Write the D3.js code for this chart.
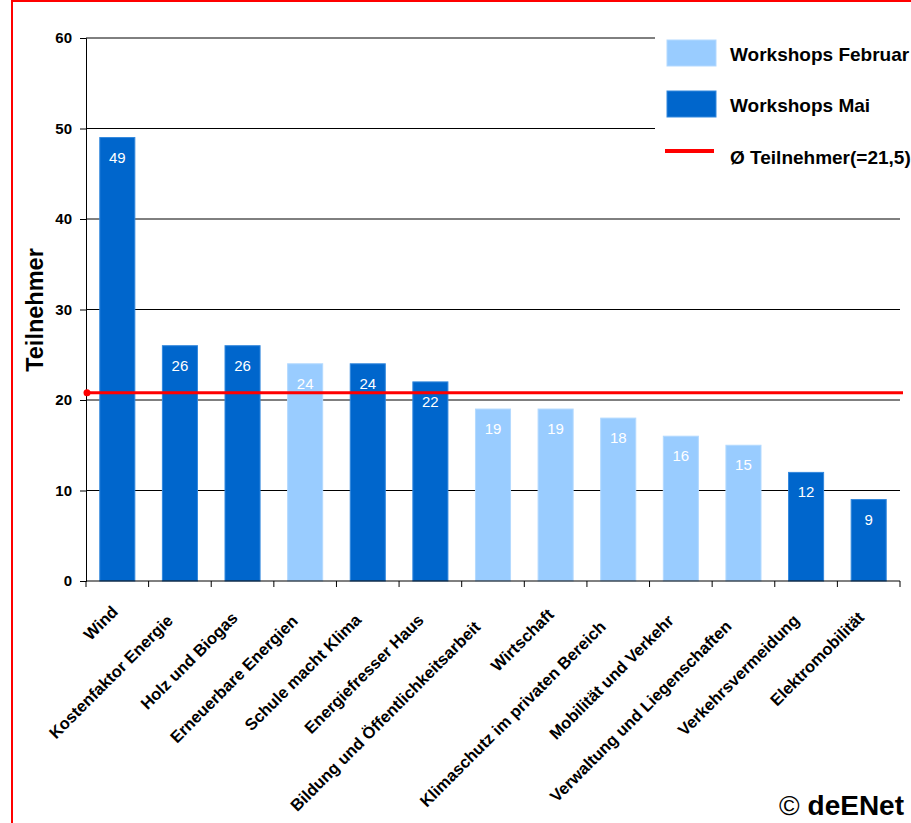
<!DOCTYPE html>
<html>
<head>
<meta charset="utf-8">
<script src="https://cdn.jsdelivr.net/npm/d3@7"></script>
<style>
  body { margin: 0; background: #fff; }
  text { font-family: "Liberation Sans", Arial, sans-serif; }
</style>
</head>
<body>
<script>
// data
var categories = ["Wind", "Kostenfaktor Energie", "Holz und Biogas", "Erneuerbare Energien",
  "Schule macht Klima", "Energiefresser Haus", "Bildung und Öffentlichkeitsarbeit", "Wirtschaft",
  "Klimaschutz im privaten Bereich", "Mobilität und Verkehr", "Verwaltung und Liegenschaften",
  "Verkehrsvermeidung", "Elektromobilität"];
var values = [49, 26, 26, 24, 24, 22, 19, 19, 18, 16, 15, 12, 9];
var series = ["Mai", "Mai", "Mai", "Februar", "Mai", "Mai", "Februar", "Februar", "Februar", "Februar", "Februar", "Mai", "Mai"];
var yTicks = [0, 10, 20, 30, 40, 50, 60];
var avgLine = 20.8;   // where the red line sits in the picture
var legendLabels = ["Workshops Februar", "Workshops Mai", "Ø Teilnehmer(=21,5)"];

var colours = {Februar: "#99ccff", Mai: "#0066cc"};

var width = 911, height = 823;
var svg = d3.select("body").append("svg")
  .attr("width", width).attr("height", height);

// red frame
svg.append("rect")
  .attr("x", 12).attr("y", 1).attr("width", 1000).attr("height", 1000)
  .attr("fill", "none").attr("stroke", "#ff0000").attr("stroke-width", 2);

var x = d3.scaleBand().domain(categories).range([86, 900]).paddingInner(0.44).paddingOuter(0.22);
var y = d3.scaleLinear().domain([0, 60]).range([581, 38]);

// grid
svg.append("g").selectAll("line").data(yTicks.filter(d => d > 0)).enter().append("line")
  .attr("x1", 86).attr("x2", 900)
  .attr("y1", d => y(d)).attr("y2", d => y(d))
  .attr("stroke", "#000").attr("stroke-width", 1);

// bars
var bars = svg.append("g");
categories.forEach(function(c, i){
  bars.append("rect")
    .attr("x", x(c)).attr("y", y(values[i]))
    .attr("width", x.bandwidth()).attr("height", y(0) - y(values[i]))
    .attr("fill", colours[series[i]])
    .attr("stroke", series[i] == "Mai" ? "#3388dd" : "#b3d9ff").attr("stroke-width", 1);
  bars.append("text")
    .attr("x", x(c) + x.bandwidth()/2).attr("y", y(values[i]) + 25)
    .attr("text-anchor", "middle").attr("fill", "#fff")
    .attr("font-size", "15px")
    .text(values[i]);
});

// y axis
var yAxis = svg.append("g").attr("transform", "translate(86,0)")
  .call(d3.axisLeft(y).tickValues(yTicks).tickSize(6).tickPadding(8));
yAxis.select(".domain").attr("stroke", "#000");
yAxis.selectAll(".tick line").attr("stroke", "#000");
yAxis.selectAll(".tick text").attr("font-size", "15px").attr("font-weight", "bold")
  .attr("fill", "#000").attr("font-family", "Liberation Sans, Arial, sans-serif");

// x axis with ticks on band edges
var xAxis = svg.append("g").attr("transform", "translate(0,581)");
xAxis.append("line").attr("x1", 86).attr("x2", 900).attr("stroke", "#000");
var edges = categories.map(c => x(c) - x.step()*x.paddingInner()/2).concat([900]);
xAxis.selectAll("line.t").data(edges).enter().append("line")
  .attr("class", "t")
  .attr("x1", d => d).attr("x2", d => d).attr("y1", 0).attr("y2", 6)
  .attr("stroke", "#000");
// longer labels sit a little lower, as in the original
svg.append("g").selectAll("text").data(categories).enter().append("text")
  .attr("text-anchor", "end")
  .attr("font-size", "16.5px").attr("font-weight", "bold").attr("fill", "#000")
  .text(d => d)
  .attr("transform", function(d){
    var L = this.getComputedTextLength();
    var px = x(d) + x.bandwidth()/2 + 4 - 0.06*L;
    var py = 610 + 0.07*L;
    return "translate(" + px + "," + py + ") rotate(-45)";
  });

// y label
svg.append("text")
  .attr("transform", "translate(43,310) rotate(-90)")
  .attr("text-anchor", "middle")
  .attr("font-size", "23.5px").attr("font-weight", "bold")
  .text("Teilnehmer");

// average line
svg.append("line")
  .attr("x1", 87).attr("x2", 903)
  .attr("y1", y(avgLine)).attr("y2", y(avgLine))
  .attr("stroke", "#ff0000").attr("stroke-width", 3);
svg.append("circle").attr("cx", 87).attr("cy", y(avgLine)).attr("r", 3.5).attr("fill", "#ff0000");

// legend
var legend = svg.append("g");
legend.append("rect").attr("x", 655).attr("y", 20).attr("width", 256).attr("height", 160).attr("fill", "#fff");
legend.append("rect").attr("x", 667).attr("y", 40).attr("width", 49).attr("height", 26)
  .attr("fill", colours.Februar).attr("stroke", "#b3d9ff");
legend.append("rect").attr("x", 667).attr("y", 91).attr("width", 49).attr("height", 26)
  .attr("fill", colours.Mai).attr("stroke", "#3388dd");
legend.append("line").attr("x1", 665).attr("x2", 714).attr("y1", 151).attr("y2", 151)
  .attr("stroke", "#ff0000").attr("stroke-width", 4);
legend.selectAll("text.l").data(legendLabels).enter().append("text")
  .attr("class", "l")
  .attr("x", 730).attr("y", (d, i) => [61, 112, 164][i])
  .attr("font-size", "19px").attr("font-weight", "bold")
  .text(d => d);

// copyright
var cp = svg.append("text").attr("x", 904).attr("y", 815).attr("text-anchor", "end")
  .attr("font-size", "28px");
cp.append("tspan").attr("font-weight", "normal").text("© ");
cp.append("tspan").attr("font-weight", "bold").text("deENet");
</script>
</body>
</html>
